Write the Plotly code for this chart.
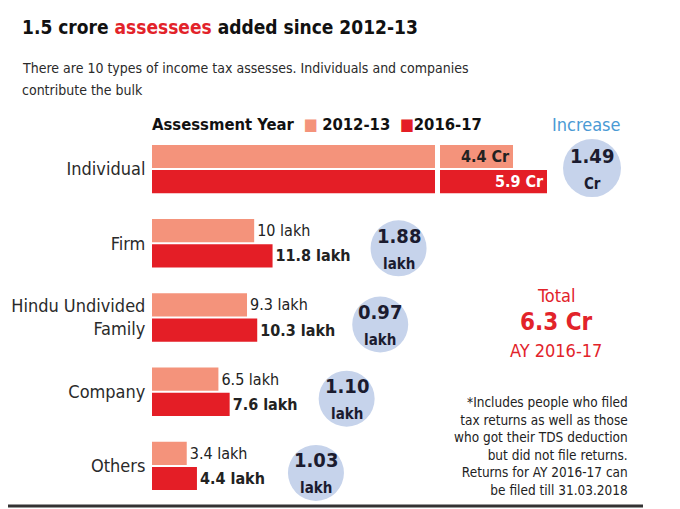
import plotly.graph_objects as go

# ---------------- data ----------------
categories = ["Individual", "Firm", "Hindu Undivided<br>Family", "Company", "Others"]
series_names = ["2012-13", "2016-17"]
values_2012 = [440, 10, 9.3, 6.5, 3.4]      # in lakh
values_2016 = [590, 11.8, 10.3, 7.6, 4.4]   # in lakh
labels_2012 = ["4.4 Cr", "10 lakh", "9.3 lakh", "6.5 lakh", "3.4 lakh"]
labels_2016 = ["5.9 Cr", "11.8 lakh", "10.3 lakh", "7.6 lakh", "4.4 lakh"]
increase_values = ["1.49", "1.88", "0.97", "1.10", "1.03"]
increase_units = ["Cr", "lakh", "lakh", "lakh", "lakh"]

# ---------------- styles ----------------
OFF = 8                      # page body margin
W, H = 680 - OFF, 509 - OFF
FONT = "'DejaVu Sans Condensed', 'Liberation Sans Narrow', 'Roboto Condensed', Roboto, sans-serif"
C_2012 = "#F4937B"
C_2016 = "#E41E26"
C_TXT = "#222222"
C_RED = "#E2232A"
C_BLUE = "#4A9AD4"
C_CIRCLE = "#C6D3EB"

X1_MAX = 27.7            # lakh scale (left segment)
X2_START = 118           # broken-axis segment for very large values
X2_PX_PER_UNIT = 0.2267


def px(x):
    return (x - OFF) / W


def py(y):
    return 1 - (y - OFF) / H


X2_DOMAIN_PX = (440, 665)
X2_RANGE = [X2_START, X2_START + (X2_DOMAIN_PX[1] - X2_DOMAIN_PX[0]) / X2_PX_PER_UNIT]

big = [v2 > X1_MAX for v2 in values_2016]

fig = go.Figure()

# left segment (small values; large bars are clipped at the break)
for name, vals, labs, col, weight in [
    (series_names[0], values_2012, labels_2012, C_2012, "normal"),
    (series_names[1], values_2016, labels_2016, C_2016, "bold"),
]:
    fig.add_trace(go.Bar(
        name=name, y=categories, x=vals, orientation="h",
        marker=dict(color=col, line=dict(width=0)),
        text=["" if b else t for t, b in zip(labs, big)],
        textposition="outside", cliponaxis=False, constraintext="none",
        textfont=dict(family=FONT, size=16, color=C_TXT, weight=weight),
        xaxis="x", yaxis="y", showlegend=False, hoverinfo="skip",
    ))

# right segment (large values after the break)
for name, vals, labs, col, tcol in [
    (series_names[0], values_2012, labels_2012, C_2012, C_TXT),
    (series_names[1], values_2016, labels_2016, C_2016, "white"),
]:
    fig.add_trace(go.Bar(
        name=name, y=[c for c, b in zip(categories, big) if b],
        x=[v for v, b in zip(vals, big) if b], orientation="h",
        marker=dict(color=col, line=dict(width=0)),
        text=[t for t, b in zip(labs, big) if b],
        textposition="inside", insidetextanchor="end", constraintext="none",
        textfont=dict(family=FONT, size=16, color=tcol, weight="bold"),
        xaxis="x2", yaxis="y", showlegend=False, hoverinfo="skip",
    ))

# increase circles, anchored to the 2016-17 bar end
circle_dx = [45, 126, 123, 117, 119]
circle_dy = [-1, 5, 7, 7, 7]
circle_r = [29, 28, 28, 28, 28]
shapes = []
annotations = []
for i, cat in enumerate(categories):
    xref = "x2" if big[i] else "x"
    r = circle_r[i]
    shapes.append(dict(
        type="circle", xref=xref, yref="y",
        xsizemode="pixel", ysizemode="pixel",
        xanchor=values_2016[i], yanchor=cat,
        x0=circle_dx[i] - r, x1=circle_dx[i] + r,
        y0=-circle_dy[i] - r, y1=-circle_dy[i] + r,
        fillcolor=C_CIRCLE, line=dict(width=0), layer="below",
    ))
    annotations.append(dict(
        xref=xref, yref="y", x=values_2016[i], y=cat,
        xshift=circle_dx[i], yshift=-circle_dy[i],
        text=f"<b>{increase_values[i]}</b><br><span style='font-size:15px'><b>{increase_units[i]}</b></span>",
        showarrow=False, font=dict(family=FONT, size=20, color="#1B1B2F"),
        align="center",
    ))

# legend (built from series names and colours)
legend_text = (
    "<b>Assessment Year</b>  "
    f"<span style='color:{C_2012}'>■</span> <b>{series_names[0]}</b>  "
    f"<span style='color:{C_2016}'>■</span><b>{series_names[1]}</b>"
)

annotations += [
    dict(xref="paper", yref="paper", x=px(20), y=py(27), xanchor="left", yanchor="middle",
         text="<b>1.5 crore <span style='color:#E2232A'>assessees</span> added since 2012-13</b>",
         showarrow=False, font=dict(family=FONT, size=19, color="#111111")),
    dict(xref="paper", yref="paper", x=px(20), y=py(68), xanchor="left", yanchor="middle",
         text="There are 10 types of income tax assesses. Individuals and companies",
         showarrow=False, align="left", font=dict(family=FONT, size=14, color="#2a2a2a")),
    dict(xref="paper", yref="paper", x=px(20), y=py(90), xanchor="left", yanchor="middle",
         text="contribute the bulk",
         showarrow=False, align="left", font=dict(family=FONT, size=14, color="#2a2a2a")),
    dict(xref="paper", yref="paper", x=px(150), y=py(125), xanchor="left", yanchor="middle",
         text=legend_text, showarrow=False, font=dict(family=FONT, size=16.5, color="#111111")),
    dict(xref="paper", yref="paper", x=px(586), y=py(125), xanchor="center", yanchor="middle",
         text="Increase", showarrow=False, font=dict(family=FONT, size=18, color=C_BLUE)),
    dict(xref="paper", yref="paper", x=px(556), y=py(295), xanchor="center", yanchor="middle",
         text="Total", showarrow=False, font=dict(family=FONT, size=18, color=C_RED)),
    dict(xref="paper", yref="paper", x=px(556), y=py(322), xanchor="center", yanchor="middle",
         text="<b>6.3 Cr</b>", showarrow=False, font=dict(family=FONT, size=24, color=C_RED)),
    dict(xref="paper", yref="paper", x=px(556), y=py(350), xanchor="center", yanchor="middle",
         text="AY 2016-17", showarrow=False, font=dict(family=FONT, size=18, color=C_RED)),
    dict(xref="paper", yref="paper", x=px(630), y=py(446), xanchor="right", yanchor="middle",
         text=("*Includes people who filed<br>tax returns as well as those<br>who got their TDS deduction"
               "<br>but did not file returns.<br>Returns for AY 2016-17 can<br>be filed till 31.03.2018"),
         showarrow=False, align="right", font=dict(family=FONT, size=13.5, color="#222222")),
]

shapes.append(dict(type="line", xref="paper", yref="paper", x0=0, x1=px(643), y0=py(506), y1=py(506),
                   line=dict(color="#333333", width=3)))

fig.update_layout(
    width=W, height=H,
    margin=dict(l=0, r=0, t=0, b=0),
    paper_bgcolor="white", plot_bgcolor="rgba(0,0,0,0)",
    barmode="group", bargap=0.32, bargroupgap=0.08,
    font=dict(family=FONT, color=C_TXT),
    showlegend=False,
    xaxis=dict(domain=[px(152), px(435)], range=[0, X1_MAX], visible=False, fixedrange=True),
    xaxis2=dict(domain=[px(X2_DOMAIN_PX[0]), px(X2_DOMAIN_PX[1])], range=X2_RANGE,
                visible=False, anchor="y", fixedrange=True),
    yaxis=dict(domain=[py(503), py(132)], type="category", categoryorder="array",
               categoryarray=categories, range=[4.5, -0.5],
               showgrid=False, zeroline=False, showline=False,
               ticks="outside", ticklen=2, tickcolor="rgba(0,0,0,0)",
               tickfont=dict(family=FONT, size=18, color="#2a2a2a")),
    shapes=shapes, annotations=annotations,
)

fig.write_html("out.html")
